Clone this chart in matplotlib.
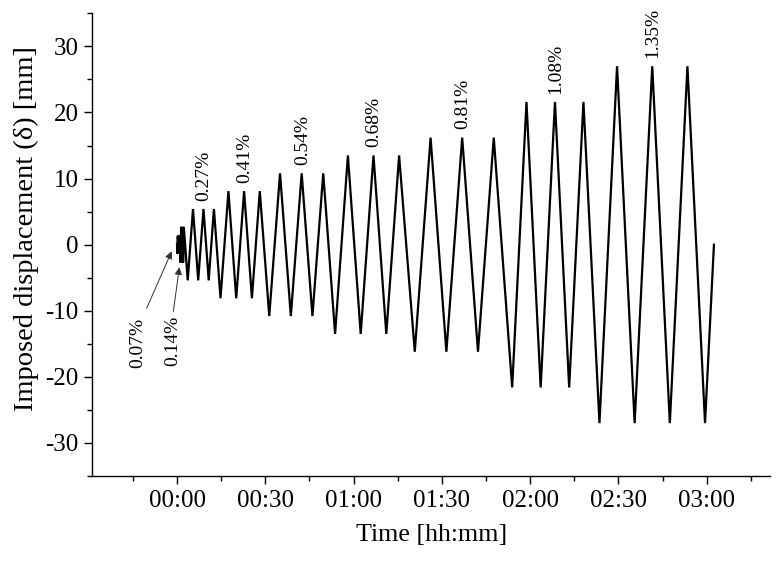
import matplotlib
matplotlib.use("Agg")
import matplotlib.pyplot as plt
from matplotlib.ticker import MultipleLocator, FixedLocator, FixedFormatter

# ---------------- data ----------------
# loading protocol vertices: time [min] and imposed displacement [mm]
vertex_time_min = [0.00,
                   0.10, 0.27, 0.44, 0.61, 0.78, 0.95,          # 0.07 %
                   1.16, 1.39, 1.63, 1.87, 2.07, 2.31,          # 0.14 %
                   3.64, 5.43, 7.20, 8.99, 10.77, 12.54,        # 0.27 %
                   14.78, 17.47, 20.12, 22.80, 25.45, 28.13,    # 0.41 %
                   31.35, 35.01, 38.68, 42.36, 46.02, 49.69,    # 0.54 %
                   53.72, 58.07, 62.42, 66.77, 71.12, 75.47,    # 0.68 %
                   80.80, 86.17, 91.54, 96.91, 102.28, 107.64,  # 0.81 %
                   113.90, 118.76, 123.58, 128.44, 133.27, 138.12,  # 1.08 %
                   143.56, 149.54, 155.52, 161.50, 167.48, 173.46,  # 1.35 %
                   179.44, 182.47]
vertex_disp_mm = [0.0,
                  -1.35, 1.35, -1.35, 1.35, -1.35, 1.35,
                  -2.7, 2.7, -2.7, 2.7, -2.7, 2.7,
                  -5.4, 5.4, -5.4, 5.4, -5.4, 5.4,
                  -8.1, 8.1, -8.1, 8.1, -8.1, 8.1,
                  -10.8, 10.8, -10.8, 10.8, -10.8, 10.8,
                  -13.5, 13.5, -13.5, 13.5, -13.5, 13.5,
                  -16.2, 16.2, -16.2, 16.2, -16.2, 16.2,
                  -21.6, 21.6, -21.6, 21.6, -21.6, 21.6,
                  -27.0, 27.0, -27.0, 27.0, -27.0, 27.0,
                  -27.0, 0.0]

# drift labels placed above the middle peak of each level
drift_labels = ["0.27%", "0.41%", "0.54%", "0.68%", "0.81%", "1.08%", "1.35%"]
drift_label_time_min = [8.99, 22.80, 42.36, 66.77, 96.91, 128.44, 161.50]
drift_label_disp_mm = [5.4, 8.1, 10.8, 13.5, 16.2, 21.6, 27.0]

# small levels labelled with arrows
small_labels = ["0.07%", "0.14%"]
small_tip_time_min = [-1.8, 0.8]
small_tip_disp_mm = [-1.0, -3.4]

x_ticks_min = [0, 30, 60, 90, 120, 150, 180]
x_tick_labels = ["00:00", "00:30", "01:00", "01:30", "02:00", "02:30", "03:00"]

# ---------------- figure ----------------
plt.rcParams['font.family'] = ['Liberation Serif', 'DejaVu Serif']
plt.rcParams['axes.unicode_minus'] = False

fig = plt.figure(figsize=(7.76, 5.63), dpi=100)
ax = fig.add_axes([0.1189, 0.1545, 0.8733, 0.8218])

ax.plot(vertex_time_min, vertex_disp_mm, color='black', lw=1.6,
        solid_joinstyle='miter')

ax.set_xlim(-28.8, 201.5)
ax.set_ylim(-35, 35)

for s in ['top', 'right']:
    ax.spines[s].set_visible(False)
for s in ['left', 'bottom']:
    ax.spines[s].set_linewidth(1.0)

ax.xaxis.set_major_locator(FixedLocator(x_ticks_min))
ax.xaxis.set_major_formatter(FixedFormatter(x_tick_labels))
ax.xaxis.set_minor_locator(MultipleLocator(15))
ax.yaxis.set_major_locator(MultipleLocator(10))
ax.yaxis.set_minor_locator(MultipleLocator(5))
ax.tick_params(which='major', direction='out', length=6, width=1.0,
               labelsize=18, pad=4)
ax.tick_params(which='minor', direction='out', length=3.5, width=1.0)

ax.set_xlabel("Time [hh:mm]", fontsize=18.7, labelpad=9)
ax.set_ylabel("Imposed displacement (δ) [mm]", fontsize=20.5)
ax.yaxis.set_label_coords(-0.078, 0.535)

for lab, t, d in zip(drift_labels, drift_label_time_min, drift_label_disp_mm):
    ax.annotate(lab, xy=(t, d), xytext=(0.5, 6), textcoords='offset points',
                rotation=90, ha='center', va='bottom', fontsize=14)

# arrows and labels for the smallest levels
small_text_pos = [(-13.3, -14.9), (-1.4, -14.6)]
small_tail_pos = [(-10.3, -9.6), (-1.25, -10.1)]
for lab, tt, td, (tx, ty), (ax_, ay_) in zip(small_labels, small_tip_time_min,
                                             small_tip_disp_mm, small_text_pos,
                                             small_tail_pos):
    ax.text(tx, ty, lab, rotation=90, ha='center', va='center', fontsize=14)
    ax.annotate('', xy=(tt, td), xytext=(ax_, ay_),
                arrowprops=dict(arrowstyle='-|>', lw=0.7, color='#333333',
                                mutation_scale=11, shrinkA=0, shrinkB=0))

fig.savefig("out.png", dpi=100)
